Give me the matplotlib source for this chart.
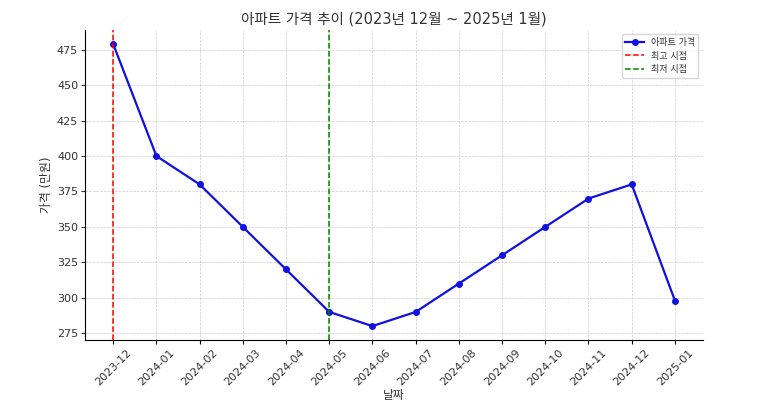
import matplotlib
matplotlib.use("Agg")
import matplotlib.pyplot as plt

plt.rcParams['font.family'] = ['DejaVu Sans', 'Noto Sans CJK KR']

months = ["2023-12", "2024-01", "2024-02", "2024-03", "2024-04", "2024-05", "2024-06",
          "2024-07", "2024-08", "2024-09", "2024-10", "2024-11", "2024-12", "2025-01"]
prices = [479, 400, 380, 350, 320, 290, 280, 290, 310, 330, 350, 370, 380, 298]
peak_month = "2023-12"
low_month = "2024-05"

title = "아파트 가격 추이 (2023년 12월 ~ 2025년 1월)"
xlabel = "날짜"
ylabel = "가격 (만원)"
series_label = "아파트 가격"
peak_label = "최고 시점"
low_label = "최저 시점"

fig = plt.figure(figsize=(7.6, 4.05), dpi=100)
ax = fig.add_axes([0.112, 0.160, 0.813, 0.766])
x = list(range(len(months)))
ax.plot(x, prices, color="#1010e0", marker="o", markersize=4, linewidth=1.6, label=series_label)
ax.axvline(months.index(peak_month), color="red", linestyle="--", linewidth=1.1, label=peak_label)
ax.axvline(months.index(low_month), color="green", linestyle="--", linewidth=1.1, label=low_label)
ax.set_xticks(x)
ax.set_xticklabels(months, rotation=45, color="#333333")
ax.tick_params(axis="y", colors="#333333")
ax.tick_params(axis="both", labelsize=8, length=3, pad=2)
ax.set_yticks(range(275, 476, 25))
ax.grid(True, linestyle="--", color="#cccccc", linewidth=0.5)
ax.spines["top"].set_visible(False)
ax.spines["right"].set_visible(False)
ax.set_title(title, fontsize=10.5, color="#333333", pad=5)
ax.set_xlabel(xlabel, color="#333333", fontsize=8.5)
ax.xaxis.set_label_coords(0.5, -0.158)
ax.set_ylabel(ylabel, color="#333333", fontsize=8.5, labelpad=3)
leg = ax.legend(loc="upper right", fontsize=6.5)
for t in leg.get_texts():
    t.set_color("#333333")
fig.savefig("out.png", dpi=100)
